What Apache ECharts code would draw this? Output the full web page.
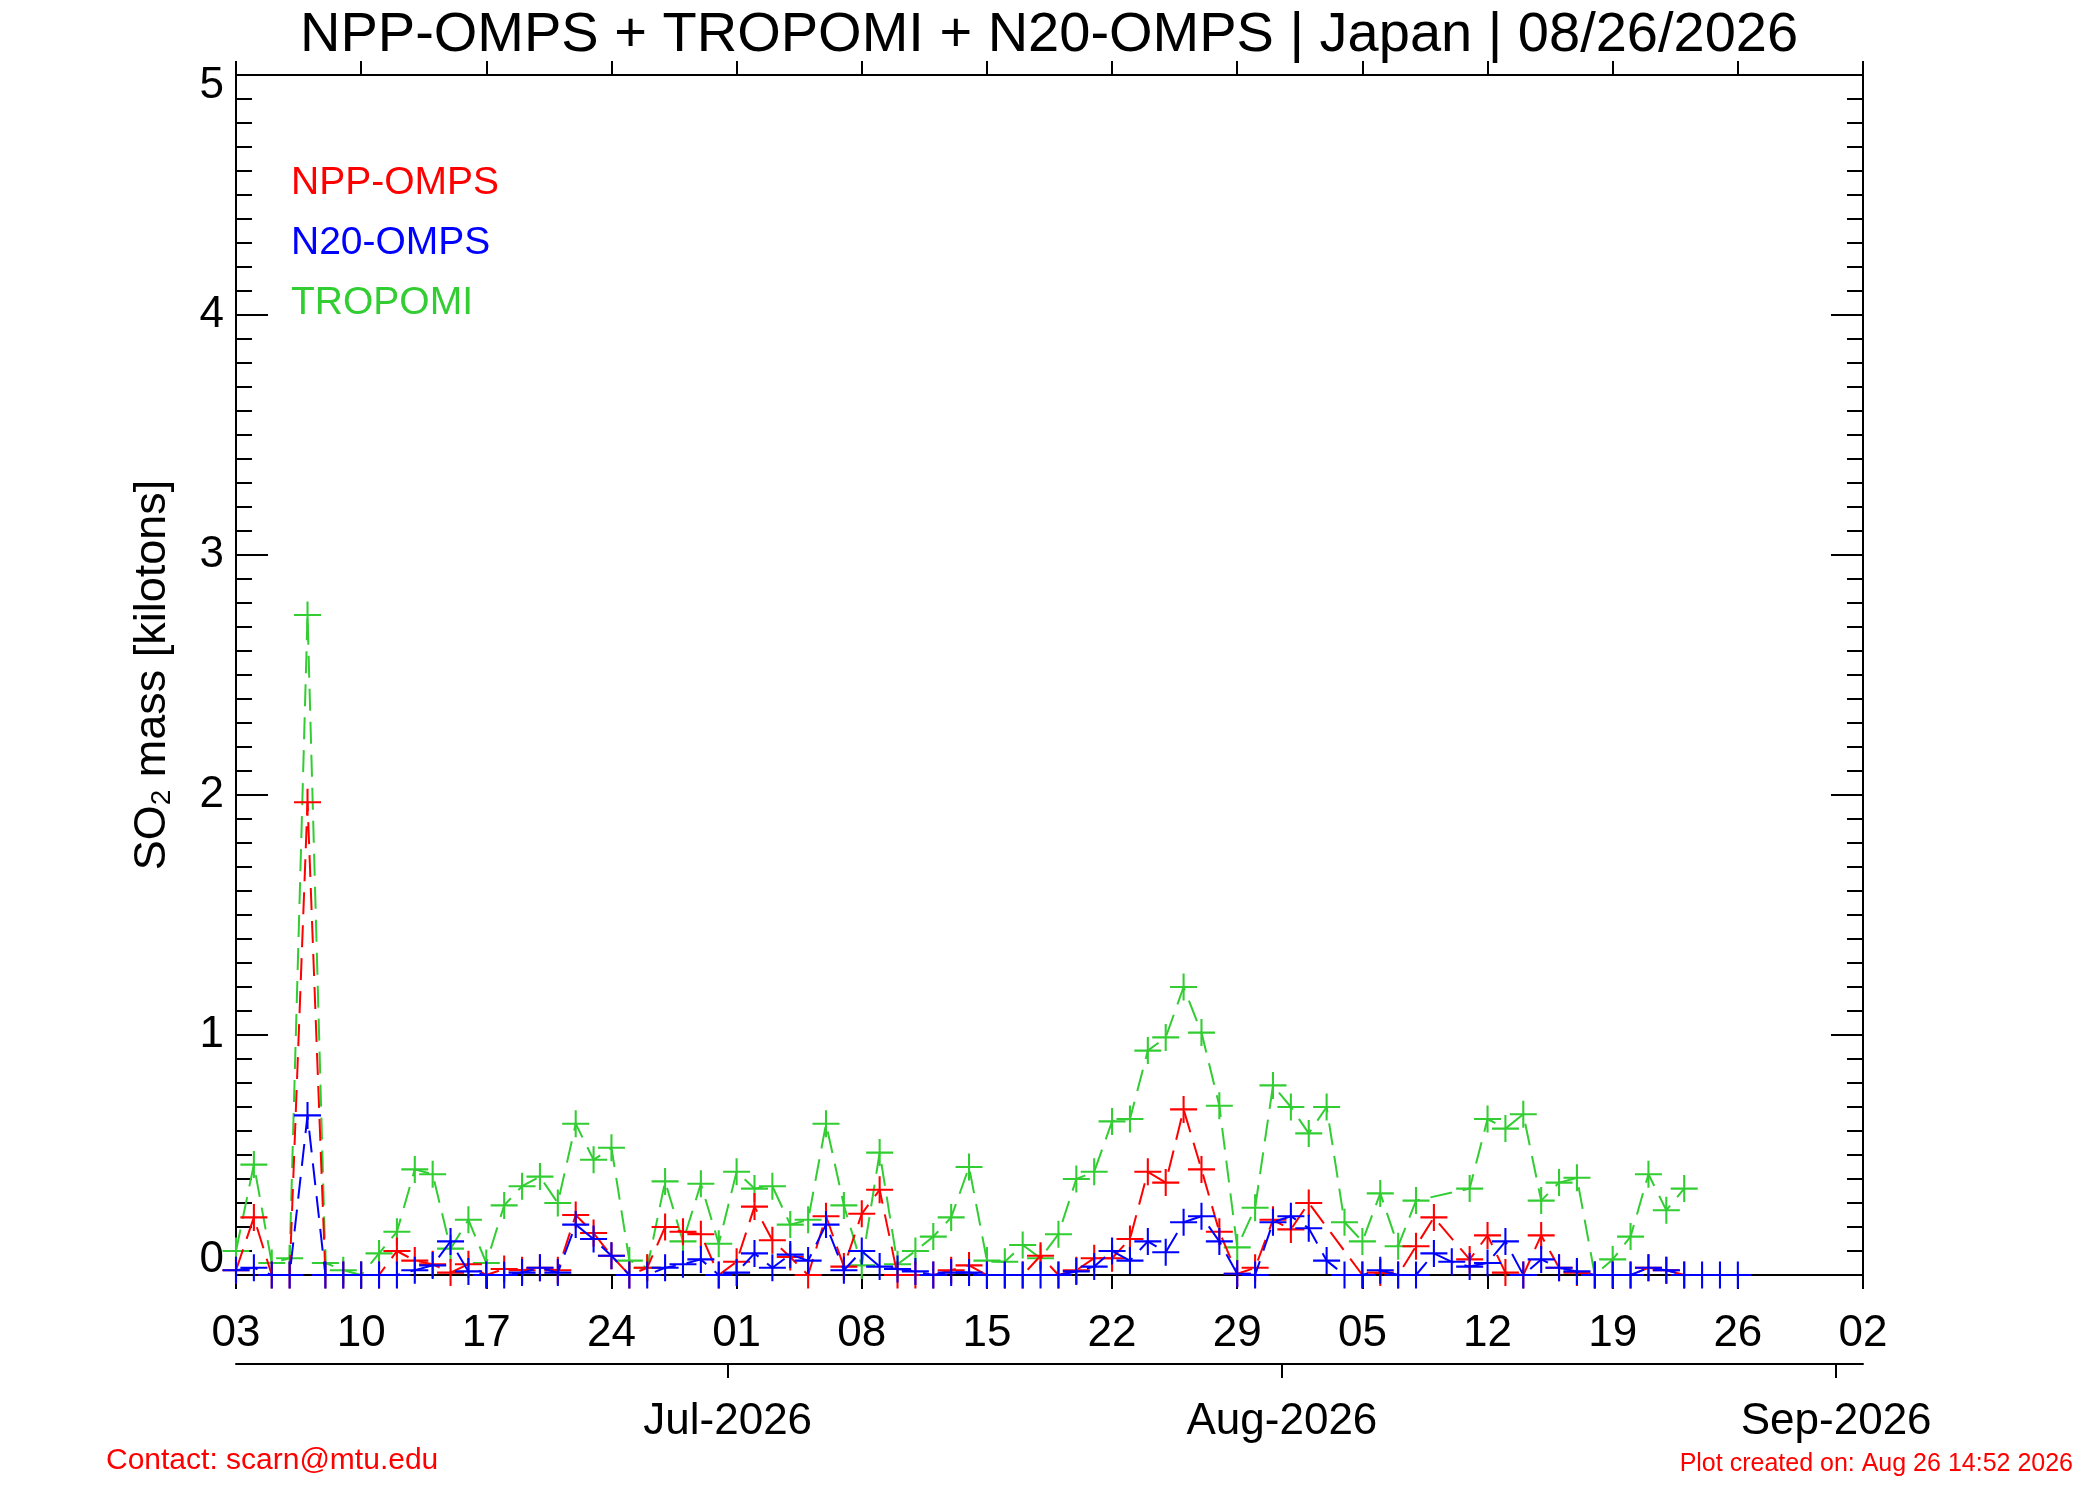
<!DOCTYPE html>
<html>
<head>
<meta charset="utf-8">
<style>
html,body{margin:0;padding:0;background:#fff;}
#chart{width:2100px;height:1500px;}
</style>
<script src="https://cdn.jsdelivr.net/npm/echarts@6/dist/echarts.min.js"></script>
</head>
<body>
<div id="chart"></div>
<script>
// Day 0 = 2026-06-03
const dayTickLabels = ['03','10','17','24','01','08','15','22','29','05','12','19','26','02'];
const monthTickPos = [27.5, 58.5, 89.5];
const monthTickLabels = ['Jul-2026','Aug-2026','Sep-2026'];

const nppOmps = [0.02,0.24,0,0,1.97,0,0,0,0,0.10,
  0.06,0.045,0.01,0.045,0,0.025,0.02,0.03,0.02,0.25,
  0.175,0.08,0,0.03,0.20,0.18,0.17,0,0.055,0.285,
  0.145,0.075,0,0.245,0.035,0.255,0.355,0,0,0,
  0.02,0.04,0,0,0,0.08,0,0.02,0.07,0.07,
  0.15,0.43,0.385,0.69,0.44,0.18,0.005,0.03,0.23,0.19,
  0.30,null,null,0,0.01,0,0.12,0.24,null,0.065,
  0.165,0.01,0,0.165,0.03,0.01,0,0,0,0.03,
  0.02,0];

const n20Omps = [0.02,0.03,0,0,0.665,0,0,0,0,0,
  0.02,0.04,0.14,0.015,0,0,0.01,0.03,0.01,0.21,
  0.15,0.08,0,0,0.03,0.045,0.065,0,0.01,0.09,
  0.03,0.085,0.06,0.21,0.02,0.10,0.035,0.025,0.015,0,
  0.01,0.01,0,0,0,0,0,0.015,0.035,0.10,
  0.06,0.14,0.095,0.22,0.245,0.14,0.005,0,0.22,0.245,
  0.195,0.06,0,0,0.02,0,0,0.09,0.055,0.035,
  0.05,0.14,0,0.065,0.03,0.015,0,0,0,0.03,
  0.02,0,0,0,0];

const tropomi = [0.10,0.46,0.05,0.07,2.75,0.05,0.02,0,0.09,0.18,
  0.44,0.42,0.11,0.23,0.05,0.29,0.37,0.41,0.30,0.63,
  0.48,0.53,0.06,0.03,0.39,0.14,0.38,0.13,0.43,0.36,
  0.37,0.21,0.23,0.63,0.29,0.04,0.51,0.045,0.10,0.16,
  0.24,0.45,0.06,0.055,0.125,0.07,0.17,0.40,0.43,0.64,
  0.65,0.935,0.99,1.20,1.01,0.705,0.115,0.28,0.79,0.70,
  0.59,0.70,0.22,0.14,0.34,0.12,0.31,null,null,0.36,
  0.65,0.61,0.67,0.31,0.385,0.405,0,0.065,0.16,0.42,
  0.27,0.36];

const FONT = '"Liberation Sans", Arial, Helvetica, sans-serif';
const PLUS = 'path://M12,0h2v12h12v2h-12v12h-2v-12h-12v-2h12z';

function toPairs(arr){ return arr.map((v,i)=>[i,v]); }

function mkSeries(name, data, color, z){
  return {
    name: name, type: 'line', data: toPairs(data), connectNulls: true,
    symbol: PLUS, symbolSize: 27, showAllSymbol: true, z: z,
    itemStyle: {color: color},
    lineStyle: {color: color, width: 2, type: [22, 11]},
    emphasis: {disabled: true}
  };
}

const chart = echarts.init(document.getElementById('chart'), null, {renderer: 'canvas'});
const axisLineStyle = {color: '#000', width: 2};
chart.setOption({
  animation: false,
  backgroundColor: '#fff',
  title: {
    text: 'NPP-OMPS + TROPOMI + N20-OMPS | Japan | 08/26/2026',
    left: 300, top: 8, padding: 0,
    textStyle: {fontFamily: FONT, fontSize: 56, fontWeight: 'normal', color: '#000'}
  },
  legend: {
    orient: 'vertical', left: 286, top: 164, padding: 0,
    itemWidth: 0, itemHeight: 0, itemGap: 21, icon: 'none', selectedMode: false,
    textStyle: {fontFamily: FONT, fontSize: 39},
    data: [
      {name: 'NPP-OMPS', textStyle: {color: '#ff0000'}},
      {name: 'N20-OMPS', textStyle: {color: '#0000ff'}},
      {name: 'TROPOMI', textStyle: {color: '#32cd32'}}
    ]
  },
  grid: {left: 236, top: 75, right: 237, bottom: 225, containLabel: false},
  xAxis: [
    {
      type: 'value', position: 'bottom', min: 0, max: 91, interval: 7,
      axisLine: {show: true, onZero: false, lineStyle: axisLineStyle},
      axisTick: {show: true, inside: false, length: 14, lineStyle: axisLineStyle},
      axisLabel: {show: true, showMinLabel: true, showMaxLabel: true, margin: 37,
        fontFamily: FONT, fontSize: 44, color: '#000',
        formatter: v => dayTickLabels[Math.round(v / 7)]},
      splitLine: {show: false}
    },
    {
      type: 'value', position: 'top', min: 0, max: 91, interval: 7,
      axisLine: {show: true, onZero: false, lineStyle: axisLineStyle},
      axisTick: {show: true, inside: false, length: 14, lineStyle: axisLineStyle},
      axisLabel: {show: false},
      splitLine: {show: false}
    },
    {
      type: 'value', position: 'bottom', offset: 89, min: 0, max: 91,
      axisLine: {show: true, onZero: false, lineStyle: axisLineStyle},
      axisTick: {show: true, inside: false, length: 14, lineStyle: axisLineStyle, customValues: monthTickPos},
      axisLabel: {show: true, margin: 36, fontFamily: FONT, fontSize: 44, color: '#000',
        customValues: monthTickPos,
        formatter: v => monthTickLabels[monthTickPos.indexOf(v)]},
      splitLine: {show: false}
    }
  ],
  yAxis: [
    {
      type: 'value', position: 'left', min: 0, max: 5, interval: 1,
      axisLine: {show: true, onZero: false, lineStyle: axisLineStyle},
      axisTick: {show: true, inside: true, length: 32, lineStyle: axisLineStyle},
      minorTick: {show: true, splitNumber: 10, length: 16, lineStyle: axisLineStyle},
      axisLabel: {show: true, margin: 12, fontFamily: FONT, fontSize: 44, color: '#000',
        formatter: v => v === 0 ? '{z|0}' : (v === 5 ? '{t|5}' : String(v)),
        rich: {
          z: {fontFamily: FONT, fontSize: 44, color: '#000', padding: [0, 0, 30, 0]},
          t: {fontFamily: FONT, fontSize: 44, color: '#000', padding: [22, 0, 0, 0]}
        }},
      splitLine: {show: false}, minorSplitLine: {show: false},
      name: '{a|SO}{s|2}{a| mass [kilotons]}',
      nameLocation: 'middle', nameRotate: 90, nameGap: 60,
      nameTextStyle: {fontFamily: FONT, fontSize: 45, color: '#000',
        rich: {
          a: {fontFamily: FONT, fontSize: 45, color: '#000'},
          s: {fontFamily: FONT, fontSize: 28, color: '#000', padding: [18, 0, 0, 0]}
        }}
    },
    {
      type: 'value', position: 'right', min: 0, max: 5, interval: 1,
      axisLine: {show: true, onZero: false, lineStyle: axisLineStyle},
      axisTick: {show: true, inside: true, length: 32, lineStyle: axisLineStyle},
      minorTick: {show: true, splitNumber: 10, length: 16, lineStyle: axisLineStyle},
      axisLabel: {show: false},
      splitLine: {show: false}, minorSplitLine: {show: false}
    }
  ],
  graphic: [
    {type: 'text', left: 106, top: 1446, style: {text: 'Contact: scarn@mtu.edu', fill: '#ff0000', font: '30px ' + FONT}},
    {type: 'text', right: 27, top: 1452, style: {text: 'Plot created on: Aug 26 14:52 2026', fill: '#ff0000', font: '25px ' + FONT}}
  ],
  series: [
    mkSeries('TROPOMI', tropomi, '#32cd32', 2),
    mkSeries('NPP-OMPS', nppOmps, '#ff0000', 3),
    mkSeries('N20-OMPS', n20Omps, '#0000ff', 4)
  ]
});
</script>
</body>
</html>
